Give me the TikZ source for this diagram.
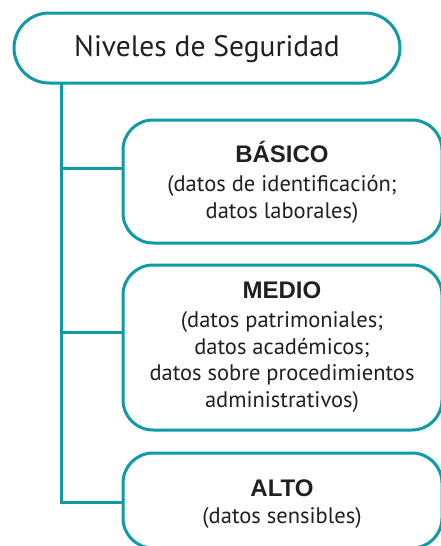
\documentclass[tikz,border=0pt]{standalone}
\usepackage{fontspec}
\setmainfont{PT Sans}
\newfontfamily\boldsans{Liberation Sans}
\definecolor{teal1}{HTML}{0E9AA7}
\definecolor{txt}{HTML}{231F20}
\begin{document}
\begin{tikzpicture}[x=1pt,y=-1pt,
  line/.style={draw=teal1,line width=3pt},
  box/.style={line,fill=white,rounded corners=30pt},
  ttl/.style={anchor=base,text=txt,inner sep=0pt,font=\fontsize{24}{24}\selectfont\boldsans\bfseries},
  sub/.style={anchor=base,inner sep=0pt,text=txt,align=center,font=\fontsize{22.5}{26.6}\selectfont}]
\useasboundingbox (0,0) rectangle (440,546);
\coordinate (spine) at (61,0);
% top
\draw[line,rounded corners=35pt] (14,13) rectangle (400,83);
\node[anchor=base,inner sep=0pt,text=txt,font=\fontsize{29.5}{29.5}\selectfont] (top) at (207,56.7) {Niveles de Seguridad};
\coordinate (topb) at (61,83);
% boxes (anchor=base of a multi-line node is the baseline of its last line)
\draw[box] (123,120) rectangle (442,243);
\node[ttl] (b1) at (282,162.7) {BÁSICO};
\node[sub] (b1s) at (282,218.5) {(datos de identificación;\\datos laborales)};
\draw[box] (123,265) rectangle (442,430);
\node[ttl] (m1) at (282,298.3) {MEDIO};
\node[sub] (m1s) at (282,407.5) {(datos patrimoniales;\\datos académicos;\\datos sobre procedimientos\\administrativos)};
\draw[box] (123,453) rectangle (442,548);
\node[ttl] (a1) at (282,496) {ALTO};
\node[sub] (a1s) at (282,523.3) {(datos sensibles)};
\coordinate (c1) at (123,168);
\coordinate (c2) at (123,332);
\coordinate (c3) at (123,502);
% connectors
\draw[line] (topb) |- (c3);
\draw[line] (spine |- c1) -- (c1);
\draw[line] (spine |- c2) -- (c2);
\end{tikzpicture}
\end{document}
